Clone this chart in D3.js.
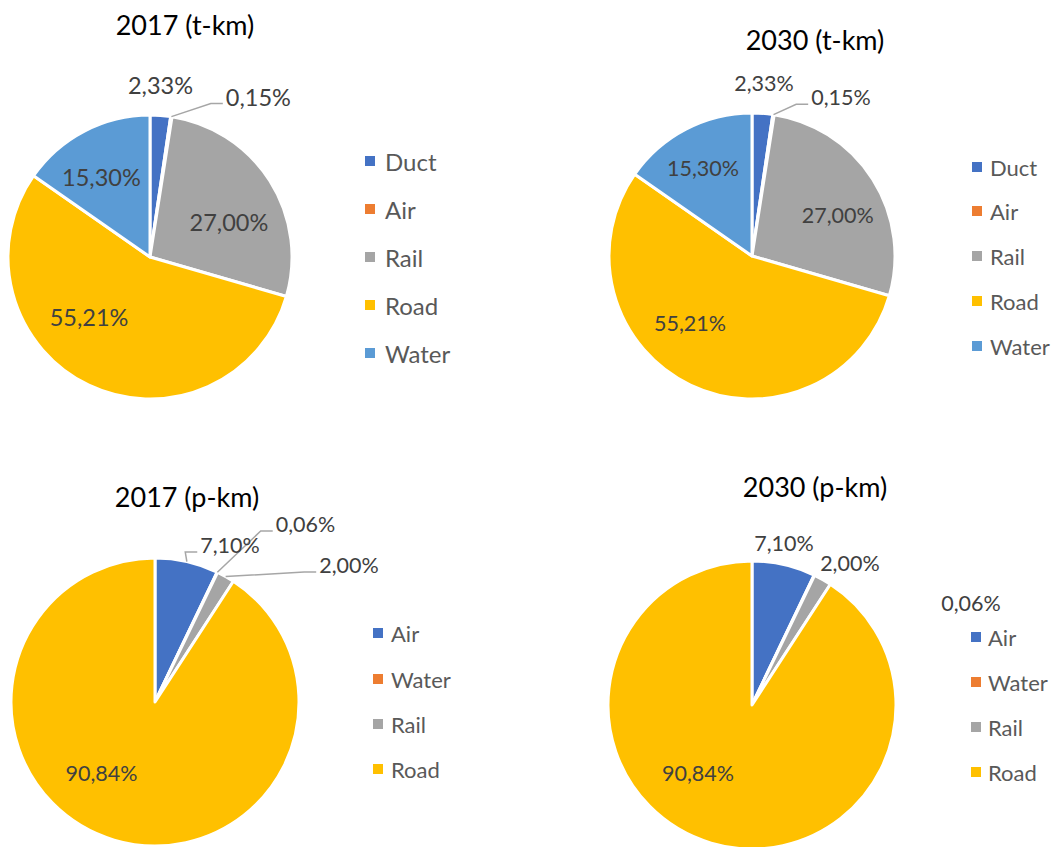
<!DOCTYPE html>
<html><head><meta charset="utf-8">
<script src="https://cdn.jsdelivr.net/npm/d3@7"></script>
<style>
html,body{margin:0;padding:0;background:#fff;}
svg{display:block;}
text{font-family:Lato,"Open Sans",sans-serif;}
</style></head>
<body>
<svg id="chart" width="1056" height="847"></svg>
<script>
// ---- data ----
const tkmCategories = ["Duct","Air","Rail","Road","Water"];
const tkm2017 = [2.33, 0.15, 27.00, 55.21, 15.30];
const tkm2030 = [2.33, 0.15, 27.00, 55.21, 15.30];
const pkmCategories = ["Air","Water","Rail","Road"];
const pkm2017 = [7.10, 0.06, 2.00, 90.84];
const pkm2030 = [7.10, 0.06, 2.00, 90.84];
const chartTitles = ["2017 (t-km)","2030 (t-km)","2017 (p-km)","2030 (p-km)"];

// ---- styling / layout ----
const tkmColors = ["#4472C4","#ED7D31","#A5A5A5","#FFC000","#5B9BD5"];
const pkmColors = ["#4472C4","#ED7D31","#A5A5A5","#FFC000"];

const panels = [
  {cats:tkmCategories, vals:tkm2017, colors:tkmColors, title:chartTitles[0],
   cx:150, cy:257, r:142, tx:185, ty:24, labelSize:23.5, legSize:24,
   legX:365, legGap:20, legY:[161,209,257,305,353],
   labels:[{dx:0.074,dy:-1.211},{dx:0.763,dy:-1.13,leader:true},{dx:0.556,dy:-0.246},{dx:-0.429,dy:0.423},{dx:-0.342,dy:-0.563}]},
  {cats:tkmCategories, vals:tkm2030, colors:tkmColors, title:chartTitles[1],
   cx:752, cy:256, r:143, tx:815, ty:39, labelSize:21.5, legSize:22,
   legX:972, legGap:18, legY:[167,211,256,301,346],
   labels:[{dx:0.084,dy:-1.21},{dx:0.622,dy:-1.11,leader:true},{dx:0.60,dy:-0.287},{dx:-0.434,dy:0.469},{dx:-0.343,dy:-0.615}]},
  {cats:pkmCategories, vals:pkm2017, colors:pkmColors, title:chartTitles[2],
   cx:155, cy:702, r:144, tx:187, ty:496, labelSize:21.5, legSize:22,
   legX:373, legGap:18, legY:[633,679,724,769],
   labels:[{dx:0.521,dy:-1.09,leader:true},{dx:1.045,dy:-1.236,leader:true},{dx:1.347,dy:-0.951,leader:true},{dx:-0.372,dy:0.493}]},
  {cats:pkmCategories, vals:pkm2030, colors:pkmColors, title:chartTitles[3],
   cx:752, cy:705, r:144, tx:815, ty:486, labelSize:21.5, legSize:22,
   legX:971, legGap:17, legY:[637,682,727,772],
   labels:[{dx:0.222,dy:-1.125},{dx:1.521,dy:-0.708},{dx:0.68,dy:-0.985},{dx:-0.375,dy:0.472}]}
];

const fmt = v => d3.format(".2f")(v).replace(".", ",") + "%";
const svg = d3.select("#chart");

panels.forEach(p => {
  const g = svg.append("g");
  const pie = d3.pie().sort(null).value(d => d)(p.vals);
  const arc = d3.arc().innerRadius(0).outerRadius(p.r);
  const color = d3.scaleOrdinal().domain(p.cats).range(p.colors);

  g.append("text").attr("x", p.tx).attr("y", p.ty)
    .attr("text-anchor","middle").attr("dominant-baseline","central")
    .attr("font-size", 27).attr("fill","#000").text(p.title);

  const pg = g.append("g").attr("transform", `translate(${p.cx},${p.cy})`);
  pg.selectAll("path.slice").data(pie).join("path")
    .attr("class","slice")
    .attr("d", arc)
    .attr("fill", (d,i) => color(p.cats[i]))
    .attr("stroke","#fff").attr("stroke-width",3).attr("stroke-linejoin","round");

  pie.forEach((d,i) => {
    const L = p.labels[i];
    const lx = L.dx * p.r, ly = L.dy * p.r;
    const t = pg.append("text").attr("x", lx).attr("y", ly)
      .attr("text-anchor","middle").attr("dominant-baseline","central")
      .attr("font-size", p.labelSize).attr("fill","#404040").text(fmt(p.vals[i]));
    if (L.leader) {
      const w = t.node().getComputedTextLength();
      const left = lx - w/2;
      const mid = (d.startAngle + d.endAngle)/2;
      const sx = p.r * Math.sin(mid), sy = -p.r * Math.cos(mid);
      const ey = ly + 7;
      pg.insert("polyline","text")
        .attr("points", [[sx,sy],[left-15,ey],[left-3,ey]].map(q=>q.join(",")).join(" "))
        .attr("fill","none").attr("stroke","#A6A6A6").attr("stroke-width",1.5);
    }
  });

  const lg = g.append("g");
  p.cats.forEach((c,i) => {
    lg.append("rect").attr("x", p.legX).attr("y", p.legY[i]-5)
      .attr("width",10).attr("height",10).attr("fill", color(c));
    lg.append("text").attr("x", p.legX+p.legGap).attr("y", p.legY[i])
      .attr("dominant-baseline","central").attr("font-size",p.legSize)
      .attr("fill","#595959").text(c);
  });
});
</script>
</body></html>
